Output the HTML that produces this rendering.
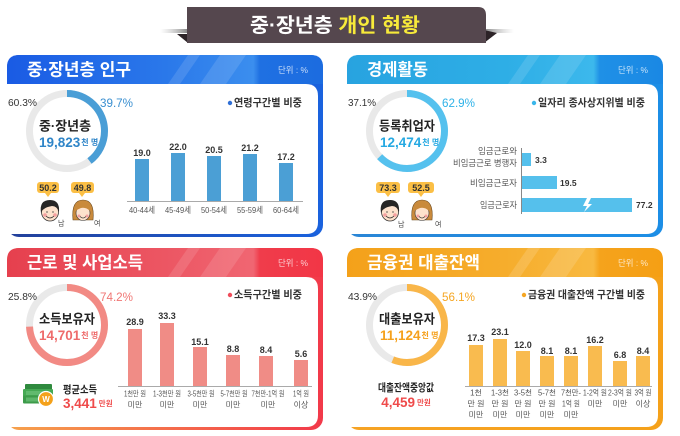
<!DOCTYPE html>
<html><head><meta charset="utf-8"><style>
html,body{margin:0;padding:0;background:#fff;}
svg{display:block}
text{font-family:"Liberation Sans","Noto Sans CJK KR",sans-serif;}
.b{font-weight:bold}
</style></head><body>
<svg width="680" height="436" viewBox="0 0 680 436" xmlns="http://www.w3.org/2000/svg">
<defs>
<linearGradient id="h1" x1="0" x2="1" y1="0" y2="0"><stop offset="0" stop-color="#1a5be4"/><stop offset="0.5" stop-color="#2a78ea"/><stop offset="0.78" stop-color="#3b8eee"/><stop offset="0.8" stop-color="#1f70e2"/><stop offset="1" stop-color="#1c6ce0"/></linearGradient>
<linearGradient id="h2" x1="0" x2="1" y1="0" y2="0"><stop offset="0" stop-color="#28a3e0"/><stop offset="0.5" stop-color="#2eaee6"/><stop offset="0.78" stop-color="#3cb8ec"/><stop offset="0.8" stop-color="#1f90e6"/><stop offset="1" stop-color="#1a88e4"/></linearGradient>
<linearGradient id="h3" x1="0" x2="1" y1="0" y2="0"><stop offset="0" stop-color="#e6404e"/><stop offset="0.5" stop-color="#ec5663"/><stop offset="0.78" stop-color="#f06672"/><stop offset="0.8" stop-color="#f03c4b"/><stop offset="1" stop-color="#f23646"/></linearGradient>
<linearGradient id="h4" x1="0" x2="1" y1="0" y2="0"><stop offset="0" stop-color="#f4a11a"/><stop offset="0.5" stop-color="#f6ad2c"/><stop offset="0.78" stop-color="#f8b940"/><stop offset="0.8" stop-color="#f5a31c"/><stop offset="1" stop-color="#f59f14"/></linearGradient>
<linearGradient id="e1" x1="0" x2="1" y1="0" y2="0"><stop offset="0" stop-color="#23409a"/><stop offset="1" stop-color="#1a62de"/></linearGradient>
<linearGradient id="e2" x1="0" x2="1" y1="0" y2="0"><stop offset="0" stop-color="#2a86d6"/><stop offset="1" stop-color="#1c8ee6"/></linearGradient>
<linearGradient id="e3" x1="0" x2="1" y1="0" y2="0"><stop offset="0" stop-color="#f6a24c"/><stop offset="1" stop-color="#f2394a"/></linearGradient>
<linearGradient id="e4" x1="0" x2="1" y1="0" y2="0"><stop offset="0" stop-color="#f6a324"/><stop offset="1" stop-color="#f5a11a"/></linearGradient>
<linearGradient id="shl" x1="0" x2="1" y1="0" y2="0"><stop offset="0" stop-color="#bbb" stop-opacity="0"/><stop offset="1" stop-color="#777"/></linearGradient>
<linearGradient id="shr" x1="0" x2="1" y1="0" y2="0"><stop offset="0" stop-color="#777"/><stop offset="1" stop-color="#bbb" stop-opacity="0"/></linearGradient>
</defs>

<!-- Title banner -->
<rect x="160" y="29" width="30" height="4" fill="url(#shl)"/>
<rect x="482" y="29" width="32" height="4" fill="url(#shr)"/>
<polygon points="177,34 188,34 188,43" fill="#2c2327"/>
<polygon points="484,30 497,33 484,43" fill="#2c2327"/>
<path d="M187,7 H478 Q486,7 486,15 V43 H187 Z" fill="#55474e"/>
<text x="335" y="26" text-anchor="middle" dominant-baseline="central" font-size="20" class="b" fill="#fff" textLength="170" lengthAdjust="spacingAndGlyphs">중·장년층 <tspan fill="#f7ea3a">개인 현황</tspan></text>

<!-- CARD FRAMES -->
<g id="c1">
<rect x="7" y="55" width="316" height="182" rx="12" fill="url(#e1)"/>
<path d="M7,84 V67 Q7,55 19,55 H311 Q323,55 323,67 V84 Z" fill="url(#h1)"/>
<polygon points="168,84 188,55 200,55 180,84" fill="#fff" opacity="0.12"/>
<polygon points="200,84 220,55 246,55 226,84" fill="#fff" opacity="0.12"/>
<path d="M7,84 H306 Q318,84 318,96 V222 Q318,234 306,234 H7 Z" fill="#fff"/>
</g>
<g transform="translate(340,0)">
<rect x="7" y="55" width="316" height="182" rx="12" fill="url(#e2)"/>
<path d="M7,84 V67 Q7,55 19,55 H311 Q323,55 323,67 V84 Z" fill="url(#h2)"/>
<polygon points="168,84 188,55 200,55 180,84" fill="#fff" opacity="0.12"/>
<polygon points="200,84 220,55 246,55 226,84" fill="#fff" opacity="0.12"/>
<path d="M7,84 H306 Q318,84 318,96 V222 Q318,234 306,234 H7 Z" fill="#fff"/>
</g>
<g transform="translate(0,193)">
<rect x="7" y="55" width="316" height="182" rx="12" fill="url(#e3)"/>
<path d="M7,84 V67 Q7,55 19,55 H311 Q323,55 323,67 V84 Z" fill="url(#h3)"/>
<polygon points="168,84 188,55 200,55 180,84" fill="#fff" opacity="0.12"/>
<polygon points="200,84 220,55 246,55 226,84" fill="#fff" opacity="0.12"/>
<path d="M7,84 H306 Q318,84 318,96 V222 Q318,234 306,234 H7 Z" fill="#fff"/>
</g>
<g transform="translate(340,193)">
<rect x="7" y="55" width="316" height="182" rx="12" fill="url(#e4)"/>
<path d="M7,84 V67 Q7,55 19,55 H311 Q323,55 323,67 V84 Z" fill="url(#h4)"/>
<polygon points="168,84 188,55 200,55 180,84" fill="#fff" opacity="0.14"/>
<polygon points="200,84 220,55 246,55 226,84" fill="#fff" opacity="0.14"/>
<path d="M7,84 H306 Q318,84 318,96 V222 Q318,234 306,234 H7 Z" fill="#fff"/>
</g>

<!-- Headers text -->
<text x="27" y="70" dominant-baseline="central" font-size="17" class="b" fill="#fff" textLength="104" lengthAdjust="spacingAndGlyphs">중·장년층 인구</text>
<text x="367" y="70" dominant-baseline="central" font-size="17" class="b" fill="#fff" textLength="61" lengthAdjust="spacingAndGlyphs">경제활동</text>
<text x="27" y="263" dominant-baseline="central" font-size="17" class="b" fill="#fff" textLength="116" lengthAdjust="spacingAndGlyphs">근로 및 사업소득</text>
<text x="367" y="263" dominant-baseline="central" font-size="17" class="b" fill="#fff" textLength="113" lengthAdjust="spacingAndGlyphs">금융권 대출잔액</text>
<g font-size="8.5" fill="#fff" opacity="0.75">
<text x="278" y="70" dominant-baseline="central" textLength="30" lengthAdjust="spacingAndGlyphs">단위 : %</text>
<text x="618" y="70" dominant-baseline="central" textLength="30" lengthAdjust="spacingAndGlyphs">단위 : %</text>
<text x="278" y="263" dominant-baseline="central" textLength="30" lengthAdjust="spacingAndGlyphs">단위 : %</text>
<text x="618" y="263" dominant-baseline="central" textLength="30" lengthAdjust="spacingAndGlyphs">단위 : %</text>
</g>

<!-- Donuts -->
<g fill="none" stroke-width="7">
<circle cx="67" cy="131" r="37.5" stroke="#e9e9e9"/>
<circle cx="67" cy="131" r="37.5" stroke="#4a9ed6" stroke-dasharray="93.5 300" transform="rotate(-90 67 131)"/>
<circle cx="407" cy="131" r="37.5" stroke="#e9e9e9"/>
<circle cx="407" cy="131" r="37.5" stroke="#55c1ee" stroke-dasharray="148.2 300" transform="rotate(-90 407 131)"/>
<circle cx="67" cy="325" r="37.5" stroke="#e9e9e9"/>
<circle cx="67" cy="325" r="37.5" stroke="#f28a84" stroke-dasharray="174.8 300" transform="rotate(-90 67 325)"/>
<circle cx="407" cy="325" r="37.5" stroke="#e9e9e9"/>
<circle cx="407" cy="325" r="37.5" stroke="#f9b649" stroke-dasharray="132.2 300" transform="rotate(-90 407 325)"/>
</g>
<g dominant-baseline="central">
<text x="8" y="103" font-size="10.5" fill="#333" textLength="29" lengthAdjust="spacingAndGlyphs" dominant-baseline="central">60.3%</text>
<text x="100" y="103" font-size="12" fill="#3a8fd0" textLength="33" lengthAdjust="spacingAndGlyphs" dominant-baseline="central">39.7%</text>
<text x="348" y="103" font-size="10.5" fill="#333" textLength="28" lengthAdjust="spacingAndGlyphs" dominant-baseline="central">37.1%</text>
<text x="442" y="103" font-size="12" fill="#2fb2e8" textLength="33" lengthAdjust="spacingAndGlyphs" dominant-baseline="central">62.9%</text>
<text x="8" y="297" font-size="10.5" fill="#333" textLength="29" lengthAdjust="spacingAndGlyphs" dominant-baseline="central">25.8%</text>
<text x="100" y="297" font-size="12" fill="#f07674" textLength="33" lengthAdjust="spacingAndGlyphs" dominant-baseline="central">74.2%</text>
<text x="348" y="297" font-size="10.5" fill="#333" textLength="29" lengthAdjust="spacingAndGlyphs" dominant-baseline="central">43.9%</text>
<text x="442" y="297" font-size="12" fill="#f5a623" textLength="33" lengthAdjust="spacingAndGlyphs" dominant-baseline="central">56.1%</text>

<text x="39" y="126" font-size="13" class="b" fill="#222" textLength="52" lengthAdjust="spacingAndGlyphs" dominant-baseline="central">중·장년층</text>
<text x="379" y="126" font-size="13" class="b" fill="#222" textLength="56" lengthAdjust="spacingAndGlyphs" dominant-baseline="central">등록취업자</text>
<text x="39" y="319" font-size="13" class="b" fill="#222" textLength="56" lengthAdjust="spacingAndGlyphs" dominant-baseline="central">소득보유자</text>
<text x="379" y="319" font-size="13" class="b" fill="#222" textLength="56" lengthAdjust="spacingAndGlyphs" dominant-baseline="central">대출보유자</text>

<text x="39" y="142" dominant-baseline="central" class="b" fill="#2f85c8"><tspan font-size="13.5">19,823</tspan><tspan font-size="8" dx="1">천 명</tspan></text>
<text x="380" y="142" dominant-baseline="central" class="b" fill="#26a9e2"><tspan font-size="13.5">12,474</tspan><tspan font-size="8" dx="1">천 명</tspan></text>
<text x="39" y="335" dominant-baseline="central" class="b" fill="#ee6b6b"><tspan font-size="13.5">14,701</tspan><tspan font-size="8" dx="1">천 명</tspan></text>
<text x="380" y="335" dominant-baseline="central" class="b" fill="#f5a11d"><tspan font-size="13.5">11,124</tspan><tspan font-size="8" dx="1">천 명</tspan></text>
</g>

<!-- Bubbles & faces -->
<g id="people">
<g class="b" font-size="9" text-anchor="middle" fill="#333">
<rect x="37" y="182" width="22" height="11" rx="3" fill="#fbbf45"/><polygon points="45,193 51,193 48,197" fill="#fbbf45"/>
<text x="48" y="188" dominant-baseline="central">50.2</text>
<rect x="71" y="182" width="23" height="11" rx="3" fill="#fbbf45"/><polygon points="79,193 85,193 82,197" fill="#fbbf45"/>
<text x="82.5" y="188" dominant-baseline="central">49.8</text>
<rect x="376" y="182" width="24" height="11" rx="3" fill="#fbbf45"/><polygon points="385,193 391,193 388,197" fill="#fbbf45"/>
<text x="388" y="188" dominant-baseline="central">73.3</text>
<rect x="408" y="182" width="26" height="11" rx="3" fill="#fbbf45"/><polygon points="418,193 424,193 421,197" fill="#fbbf45"/>
<text x="421" y="188" dominant-baseline="central">52.5</text>
</g>
<g font-size="7" fill="#444">
<text x="58" y="224" dominant-baseline="central">남</text>
<text x="94" y="224" dominant-baseline="central">여</text>
<text x="398" y="225" dominant-baseline="central">남</text>
<text x="435" y="225" dominant-baseline="central">여</text>
</g>
</g>
<!-- man faces -->
<g transform="translate(50,211)">
<ellipse cx="0" cy="1" rx="8.5" ry="9" fill="#fde2cd" stroke="#333" stroke-width="0.8"/>
<path d="M-9,2 Q-11,-11 0,-11 Q10,-11 9,1 Q7,-5 2,-5 Q-4,-4 -6,-2 Q-8,-1 -9,2Z" fill="#262626"/>
<circle cx="-5" cy="4" r="1.8" fill="#f4a0a0"/><circle cx="5" cy="4" r="1.8" fill="#f4a0a0"/>
<path d="M-4,5 Q0,9 4,5" fill="none" stroke="#333" stroke-width="0.8"/>
<path d="M-4,1 h2 M2,1 h2" stroke="#333" stroke-width="0.8"/>
</g>
<g transform="translate(390,211)">
<ellipse cx="0" cy="1" rx="8.5" ry="9" fill="#fde2cd" stroke="#333" stroke-width="0.8"/>
<path d="M-9,2 Q-11,-11 0,-11 Q10,-11 9,1 Q7,-5 2,-5 Q-4,-4 -6,-2 Q-8,-1 -9,2Z" fill="#262626"/>
<circle cx="-5" cy="4" r="1.8" fill="#f4a0a0"/><circle cx="5" cy="4" r="1.8" fill="#f4a0a0"/>
<path d="M-4,5 Q0,9 4,5" fill="none" stroke="#333" stroke-width="0.8"/>
<path d="M-4,1 h2 M2,1 h2" stroke="#333" stroke-width="0.8"/>
</g>
<!-- woman faces -->
<g transform="translate(83,211)">
<path d="M-10,9 Q-12,-11 0,-11 Q12,-11 10,9 Z" fill="#c98a3c" stroke="#6b4a20" stroke-width="0.6"/>
<ellipse cx="0" cy="2" rx="7" ry="7.5" fill="#fde2cd" stroke="#333" stroke-width="0.6"/>
<path d="M-7,0 Q-6,-8 0,-8 Q6,-8 7,0 Q3,-4 -2,-3 Q-5,-2 -7,0Z" fill="#c98a3c"/>
<circle cx="-4" cy="5" r="1.5" fill="#f4a0a0"/><circle cx="4" cy="5" r="1.5" fill="#f4a0a0"/>
<path d="M-3,5.5 Q0,8.5 3,5.5" fill="none" stroke="#333" stroke-width="0.7"/>
</g>
<g transform="translate(422,211)">
<path d="M-10,9 Q-12,-11 0,-11 Q12,-11 10,9 Z" fill="#c98a3c" stroke="#6b4a20" stroke-width="0.6"/>
<ellipse cx="0" cy="2" rx="7" ry="7.5" fill="#fde2cd" stroke="#333" stroke-width="0.6"/>
<path d="M-7,0 Q-6,-8 0,-8 Q6,-8 7,0 Q3,-4 -2,-3 Q-5,-2 -7,0Z" fill="#c98a3c"/>
<circle cx="-4" cy="5" r="1.5" fill="#f4a0a0"/><circle cx="4" cy="5" r="1.5" fill="#f4a0a0"/>
<path d="M-3,5.5 Q0,8.5 3,5.5" fill="none" stroke="#333" stroke-width="0.7"/>
</g>

<!-- Legends -->
<circle cx="230" cy="103" r="2.2" fill="#2f6fd6"/>
<text x="234" y="103" dominant-baseline="central" font-size="10.5" class="b" fill="#333" textLength="68" lengthAdjust="spacingAndGlyphs">연령구간별 비중</text>
<circle cx="534" cy="103" r="2.2" fill="#3ab6ea"/>
<text x="538" y="103" dominant-baseline="central" font-size="10.5" class="b" fill="#333" textLength="107" lengthAdjust="spacingAndGlyphs">일자리 종사상지위별 비중</text>
<circle cx="230" cy="295" r="2.2" fill="#ef4c5a"/>
<text x="234" y="295" dominant-baseline="central" font-size="10.5" class="b" fill="#333" textLength="68" lengthAdjust="spacingAndGlyphs">소득구간별 비중</text>
<circle cx="524" cy="295" r="2.2" fill="#f5a623"/>
<text x="528" y="295" dominant-baseline="central" font-size="10.5" class="b" fill="#333" textLength="117" lengthAdjust="spacingAndGlyphs">금융권 대출잔액 구간별 비중</text>

<!-- Chart 1 -->
<g fill="#4b9fd5">
<rect x="135" y="159" width="14" height="42"/>
<rect x="171" y="153" width="14" height="48"/>
<rect x="207" y="156" width="14" height="45"/>
<rect x="243" y="154" width="14" height="47"/>
<rect x="279" y="163" width="14" height="38"/>
</g>
<line x1="127" y1="201.5" x2="303" y2="201.5" stroke="#aaa" stroke-width="1"/>
<g font-size="9" class="b" fill="#333" text-anchor="middle">
<text x="142" y="153" dominant-baseline="central">19.0</text>
<text x="178" y="147" dominant-baseline="central">22.0</text>
<text x="214" y="150" dominant-baseline="central">20.5</text>
<text x="250" y="148" dominant-baseline="central">21.2</text>
<text x="286" y="157" dominant-baseline="central">17.2</text>
</g>
<g font-size="8.5" fill="#555">
<text x="129" y="210" dominant-baseline="central" textLength="26" lengthAdjust="spacingAndGlyphs">40-44세</text>
<text x="165" y="210" dominant-baseline="central" textLength="26" lengthAdjust="spacingAndGlyphs">45-49세</text>
<text x="201" y="210" dominant-baseline="central" textLength="26" lengthAdjust="spacingAndGlyphs">50-54세</text>
<text x="237" y="210" dominant-baseline="central" textLength="26" lengthAdjust="spacingAndGlyphs">55-59세</text>
<text x="273" y="210" dominant-baseline="central" textLength="26" lengthAdjust="spacingAndGlyphs">60-64세</text>
</g>

<!-- Chart 2 -->
<g fill="#55c0ec">
<rect x="521" y="153" width="10" height="13"/>
<rect x="521" y="176" width="36" height="13"/>
<rect x="521" y="198" width="111" height="14"/>
</g>
<polygon points="587,198 591,198 588,204 592,204 584,212 587,206 583,206" fill="#fff"/>
<line x1="521.5" y1="148" x2="521.5" y2="214" stroke="#888" stroke-width="1"/>
<g font-size="8.5" fill="#555" text-anchor="end">
<text x="517" y="151" dominant-baseline="central" textLength="39" lengthAdjust="spacingAndGlyphs">임금근로와</text>
<text x="517" y="163" dominant-baseline="central" textLength="64" lengthAdjust="spacingAndGlyphs">비임금근로 병행자</text>
<text x="517" y="183" dominant-baseline="central" textLength="47" lengthAdjust="spacingAndGlyphs">비임금근로자</text>
<text x="517" y="205" dominant-baseline="central" textLength="37" lengthAdjust="spacingAndGlyphs">임금근로자</text>
</g>
<g font-size="8.5" class="b" fill="#333">
<text x="535" y="160" dominant-baseline="central">3.3</text>
<text x="560" y="183" dominant-baseline="central">19.5</text>
<text x="636" y="205" dominant-baseline="central">77.2</text>
</g>

<!-- Chart 3 -->
<g fill="#f08c86">
<rect x="128" y="329" width="14" height="57"/>
<rect x="160" y="323" width="14" height="63"/>
<rect x="193" y="347" width="14" height="39"/>
<rect x="226" y="355" width="14" height="31"/>
<rect x="259" y="356" width="14" height="30"/>
<rect x="294" y="360" width="14" height="26"/>
</g>
<line x1="118" y1="386.5" x2="312" y2="386.5" stroke="#aaa" stroke-width="1"/>
<g font-size="9" class="b" fill="#333" text-anchor="middle">
<text x="135" y="322" dominant-baseline="central">28.9</text>
<text x="167" y="316" dominant-baseline="central">33.3</text>
<text x="200" y="342" dominant-baseline="central">15.1</text>
<text x="233" y="349" dominant-baseline="central">8.8</text>
<text x="266" y="350" dominant-baseline="central">8.4</text>
<text x="301" y="354" dominant-baseline="central">5.6</text>
</g>
<g font-size="8" fill="#555" text-anchor="middle">
<text x="135" y="394" dominant-baseline="central" textLength="22" lengthAdjust="spacingAndGlyphs">1천만 원</text>
<text x="167" y="394" dominant-baseline="central" textLength="28" lengthAdjust="spacingAndGlyphs">1-3천만 원</text>
<text x="201" y="394" dominant-baseline="central" textLength="27" lengthAdjust="spacingAndGlyphs">3-5천만 원</text>
<text x="234" y="394" dominant-baseline="central" textLength="27" lengthAdjust="spacingAndGlyphs">5-7천만 원</text>
<text x="268" y="394" dominant-baseline="central" textLength="33" lengthAdjust="spacingAndGlyphs">7천만-1억 원</text>
<text x="301" y="394" dominant-baseline="central" textLength="16" lengthAdjust="spacingAndGlyphs">1억 원</text>
<text x="135" y="405" dominant-baseline="central">미만</text>
<text x="167" y="405" dominant-baseline="central">미만</text>
<text x="200" y="405" dominant-baseline="central">미만</text>
<text x="233" y="405" dominant-baseline="central">미만</text>
<text x="268" y="405" dominant-baseline="central">미만</text>
<text x="301" y="405" dominant-baseline="central">이상</text>
</g>
<!-- wallet -->
<rect x="25" y="384" width="27" height="7" rx="1" fill="#2f8a3e"/>
<rect x="23" y="389" width="30" height="8" rx="1" fill="#46a954"/>
<rect x="23" y="395.5" width="30" height="8" rx="1" fill="#3d9b4a"/>
<rect x="26" y="391" width="20" height="4" fill="#6cc279" opacity="0.7"/>
<rect x="26" y="397.5" width="20" height="4" fill="#6cc279" opacity="0.7"/>
<circle cx="46" cy="399" r="7.5" fill="#f4a11a" stroke="#fff" stroke-width="1.2"/>
<text x="46" y="399.5" text-anchor="middle" dominant-baseline="central" font-size="8" class="b" fill="#fff">W</text>
<text x="63" y="390" dominant-baseline="central" font-size="10.5" class="b" fill="#222" textLength="34" lengthAdjust="spacingAndGlyphs">평균소득</text>
<text x="63" y="403" dominant-baseline="central" class="b" fill="#ef4a4a"><tspan font-size="13.5">3,441</tspan><tspan font-size="7.5" dx="2">만원</tspan></text>

<!-- Chart 4 -->
<g fill="#f9bb4f">
<rect x="469" y="345" width="14" height="41"/>
<rect x="493" y="339" width="14" height="47"/>
<rect x="516" y="351" width="14" height="35"/>
<rect x="540" y="356" width="14" height="30"/>
<rect x="564" y="356" width="14" height="30"/>
<rect x="588" y="346" width="14" height="40"/>
<rect x="613" y="361" width="14" height="25"/>
<rect x="636" y="356" width="14" height="30"/>
</g>
<line x1="465" y1="386.5" x2="652" y2="386.5" stroke="#aaa" stroke-width="1"/>
<g font-size="9" class="b" fill="#333" text-anchor="middle">
<text x="476" y="338" dominant-baseline="central">17.3</text>
<text x="500" y="332" dominant-baseline="central">23.1</text>
<text x="523" y="345" dominant-baseline="central">12.0</text>
<text x="547" y="351" dominant-baseline="central">8.1</text>
<text x="571" y="351" dominant-baseline="central">8.1</text>
<text x="595" y="340" dominant-baseline="central">16.2</text>
<text x="620" y="355" dominant-baseline="central">6.8</text>
<text x="643" y="351" dominant-baseline="central">8.4</text>
</g>
<g font-size="8" fill="#555" text-anchor="middle">
<text x="476" y="393" dominant-baseline="central">1천</text>
<text x="476" y="404" dominant-baseline="central">만 원</text>
<text x="476" y="415" dominant-baseline="central">미만</text>
<text x="500" y="393" dominant-baseline="central" textLength="18" lengthAdjust="spacingAndGlyphs">1-3천</text>
<text x="500" y="404" dominant-baseline="central">만 원</text>
<text x="500" y="415" dominant-baseline="central">미만</text>
<text x="523" y="393" dominant-baseline="central" textLength="18" lengthAdjust="spacingAndGlyphs">3-5천</text>
<text x="523" y="404" dominant-baseline="central">만 원</text>
<text x="523" y="415" dominant-baseline="central">미만</text>
<text x="547" y="393" dominant-baseline="central" textLength="18" lengthAdjust="spacingAndGlyphs">5-7천</text>
<text x="547" y="404" dominant-baseline="central">만 원</text>
<text x="547" y="415" dominant-baseline="central">미만</text>
<text x="571" y="393" dominant-baseline="central" textLength="20" lengthAdjust="spacingAndGlyphs">7천만-</text>
<text x="571" y="404" dominant-baseline="central" textLength="18" lengthAdjust="spacingAndGlyphs">1억 원</text>
<text x="571" y="415" dominant-baseline="central">미만</text>
<text x="595" y="393" dominant-baseline="central" textLength="24" lengthAdjust="spacingAndGlyphs">1-2억 원</text>
<text x="595" y="404" dominant-baseline="central">미만</text>
<text x="620" y="393" dominant-baseline="central" textLength="24" lengthAdjust="spacingAndGlyphs">2-3억 원</text>
<text x="620" y="404" dominant-baseline="central">미만</text>
<text x="643" y="393" dominant-baseline="central" textLength="17" lengthAdjust="spacingAndGlyphs">3억 원</text>
<text x="643" y="404" dominant-baseline="central">이상</text>
</g>
<text x="406" y="388" text-anchor="middle" dominant-baseline="central" font-size="10.5" class="b" fill="#222" textLength="56" lengthAdjust="spacingAndGlyphs">대출잔액중앙값</text>
<text x="406" y="402" text-anchor="middle" dominant-baseline="central" class="b" fill="#ef4a4a"><tspan font-size="13.5">4,459</tspan><tspan font-size="7.5" dx="2">만원</tspan></text>
</svg>
</body></html>
